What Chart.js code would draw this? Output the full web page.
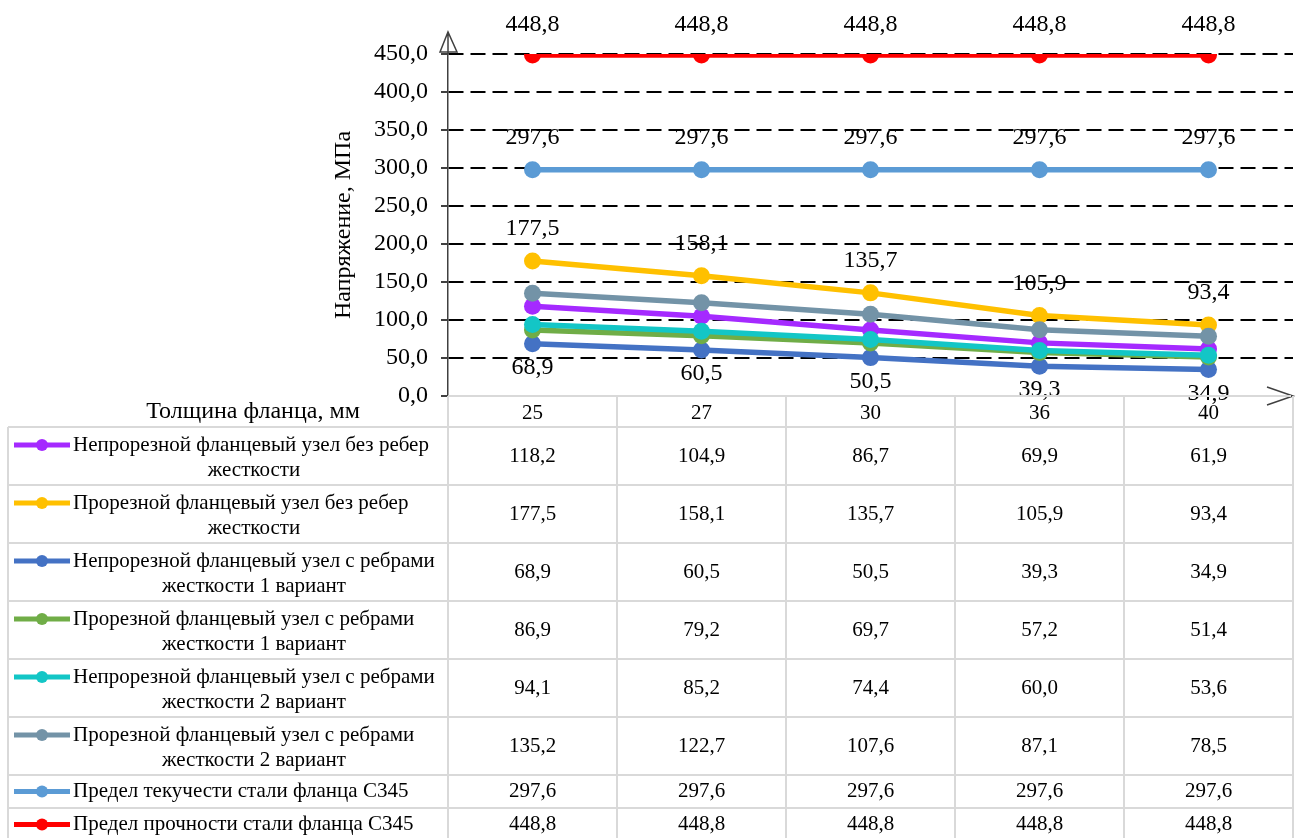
<!DOCTYPE html>
<html>
<head>
<meta charset="utf-8">
<script src="https://cdn.jsdelivr.net/npm/chart.js@4"></script>
<style>
  body { margin: 0; background: #fff; }
  #wrap { width: 1304px; height: 838px; }
</style>
</head>
<body>
<div id="wrap"><canvas id="chart" width="1304" height="838"></canvas></div>
<script>
// Data
const thickness = ['25', '27', '30', '36', '40'];
const seriesNames = [
    'Непрорезной фланцевый узел без ребер жесткости',
    'Прорезной фланцевый узел без ребер жесткости',
    'Непрорезной фланцевый узел с ребрами жесткости 1 вариант',
    'Прорезной фланцевый узел с ребрами жесткости 1 вариант',
    'Непрорезной фланцевый узел с ребрами жесткости 2 вариант',
    'Прорезной фланцевый узел с ребрами жесткости 2 вариант',
    'Предел текучести стали фланца С345',
    'Предел прочности стали фланца С345'
];
const solidNoRibs = [118.2, 104.9, 86.7, 69.9, 61.9];
const slotNoRibs = [177.5, 158.1, 135.7, 105.9, 93.4];
const solidRibs1 = [68.9, 60.5, 50.5, 39.3, 34.9];
const slotRibs1 = [86.9, 79.2, 69.7, 57.2, 51.4];
const solidRibs2 = [94.1, 85.2, 74.4, 60.0, 53.6];
const slotRibs2 = [135.2, 122.7, 107.6, 87.1, 78.5];
const yieldLimit = [297.6, 297.6, 297.6, 297.6, 297.6];
const strengthLimit = [448.8, 448.8, 448.8, 448.8, 448.8];
const yTicks = [0, 50, 100, 150, 200, 250, 300, 350, 400, 450];

const seriesData = [solidNoRibs, slotNoRibs, solidRibs1, slotRibs1, solidRibs2, slotRibs2, yieldLimit, strengthLimit];
const colors = ['#A52AFF', '#FFC000', '#4472C4', '#70AD47', '#13C6C6', '#7393A7', '#5B9BD5', '#FF0000'];
// which series get value labels, and where (above / below the point)
const labelPos = { 1: -32, 2: 24, 6: -32, 7: -30 };

const serif = '"Liberation Serif", "Times New Roman", serif';
const fmt = v => v.toFixed(1).replace('.', ',');

// value labels next to points
const valueLabels = {
    id: 'valueLabels',
    afterDatasetsDraw(chart) {
        const ctx = chart.ctx;
        ctx.save();
        ctx.font = '24px ' + serif;
        ctx.fillStyle = '#000';
        ctx.textAlign = 'center';
        ctx.textBaseline = 'middle';
        Object.keys(labelPos).forEach(k => {
            const i = Number(k);
            chart.getDatasetMeta(i).data.forEach((pt, j) => {
                ctx.fillText(fmt(seriesData[i][j]), pt.x, pt.y + labelPos[k]);
            });
        });
        ctx.restore();
    }
};

// axis arrows and the data table under the plot
const dataTable = {
    id: 'dataTable',
    afterDraw(chart) {
        const ctx = chart.ctx;
        const xs = chart.scales.x;
        const area = chart.chartArea;
        const step = xs.getPixelForValue(1) - xs.getPixelForValue(0);
        const M = xs.getPixelForValue(0) - step / 2;
        const R = xs.getPixelForValue(thickness.length - 1) + step / 2;
        const L = 8;
        const top = area.bottom;
        const headBottom = 427;
        const rowH = [58, 58, 58, 58, 58, 58, 33, 33];

        ctx.save();
        // y axis arrow
        ctx.strokeStyle = '#404040';
        ctx.lineWidth = 1.5;
        ctx.beginPath();
        ctx.moveTo(M, area.top);
        ctx.lineTo(M, 32);
        ctx.moveTo(M - 8, 52);
        ctx.lineTo(M, 32);
        ctx.lineTo(M + 9, 52);
        ctx.closePath();
        ctx.stroke();
        // x axis arrow
        ctx.beginPath();
        ctx.moveTo(R - 26, 387);
        ctx.lineTo(R, 396);
        ctx.lineTo(R - 26, 405);
        ctx.stroke();

        // grid of the table
        ctx.strokeStyle = '#d9d9d9';
        ctx.lineWidth = 2;
        ctx.beginPath();
        ctx.moveTo(M, top); ctx.lineTo(R - 2, top);
        let y = headBottom;
        const rowTops = [];
        ctx.moveTo(L, y); ctx.lineTo(R, y);
        rowH.forEach(h => {
            rowTops.push(y);
            y += h;
            ctx.moveTo(L, y); ctx.lineTo(R, y);
        });
        ctx.moveTo(L, headBottom); ctx.lineTo(L, 838);
        for (let j = 0; j <= thickness.length; j++) {
            const x = M + j * step;
            ctx.moveTo(x, top); ctx.lineTo(x, 838);
        }
        ctx.stroke();

        // header
        ctx.fillStyle = '#000';
        ctx.textAlign = 'center';
        ctx.textBaseline = 'middle';
        ctx.font = '21px ' + serif;
        thickness.forEach((t, j) => ctx.fillText(t, xs.getPixelForValue(j), 413));
        ctx.font = '24px ' + serif;
        ctx.fillText('Толщина фланца, мм', 253, 412);

        // rows
        seriesNames.forEach((name, i) => {
            const rt = rowTops[i];
            const h = rowH[i];
            ctx.font = '21px ' + serif;
            // wrap legend text
            const words = name.split(' ');
            const lines = [];
            let cur = '';
            words.forEach(w => {
                const test = cur ? cur + ' ' + w : w;
                if (ctx.measureText(test).width > 372 && cur) { lines.push(cur); cur = w; }
                else cur = test;
            });
            lines.push(cur);
            const firstY = lines.length > 1 ? rt + 18 : rt + h / 2;
            // legend key
            ctx.strokeStyle = colors[i];
            ctx.lineWidth = 5;
            ctx.beginPath();
            ctx.moveTo(14, firstY); ctx.lineTo(70, firstY);
            ctx.stroke();
            ctx.fillStyle = colors[i];
            ctx.beginPath();
            ctx.arc(42, firstY, 6, 0, Math.PI * 2);
            ctx.fill();
            ctx.fillStyle = '#000';
            ctx.textAlign = 'left';
            ctx.fillText(lines[0], 73, firstY);
            ctx.textAlign = 'center';
            for (let k = 1; k < lines.length; k++) {
                ctx.fillText(lines[k], 254, firstY + 25 * k);
            }
            // values
            seriesData[i].forEach((v, j) => {
                ctx.fillText(fmt(v), xs.getPixelForValue(j), rt + h / 2);
            });
        });
        ctx.restore();
    }
};

new Chart(document.getElementById('chart').getContext('2d'), {
    type: 'line',
    data: {
        labels: thickness,
        datasets: seriesData.map((d, i) => ({
            label: seriesNames[i],
            data: d,
            borderColor: colors[i],
            backgroundColor: colors[i],
            borderWidth: 5.5,
            pointRadius: 8.5,
            pointBorderWidth: 0,
            pointBackgroundColor: colors[i],
            tension: 0,
            order: seriesData.length - i
        }))
    },
    options: {
        responsive: false,
        animation: false,
        layout: { padding: { left: 327, right: 11, top: 54, bottom: 442 } },
        plugins: {
            legend: { display: false },
            tooltip: { enabled: false }
        },
        scales: {
            x: {
                display: false,
                offset: true
            },
            y: {
                min: 0,
                max: 450,
                afterFit: s => { s.width = 121; },
                afterBuildTicks: s => { s.ticks = yTicks.map(v => ({ value: v })); },
                border: { display: true, color: '#404040', width: 1.5, dash: [15, 7] },
                grid: {
                    color: c => (c.tick && c.tick.value === 0) ? 'rgba(0,0,0,0)' : '#000',
                    lineWidth: 2,
                    tickColor: '#000',
                    tickLength: 7,
                    tickWidth: 1.5,
                    tickBorderDash: []
                },
                ticks: {
                    color: '#000',
                    padding: 13,
                    font: { family: serif, size: 24 },
                    callback: v => fmt(v)
                },
                title: {
                    display: true,
                    text: 'Напряжение, МПа',
                    color: '#000',
                    padding: 2,
                    font: { family: serif, size: 24 }
                }
            }
        }
    },
    plugins: [valueLabels, dataTable]
});
</script>
</body>
</html>
